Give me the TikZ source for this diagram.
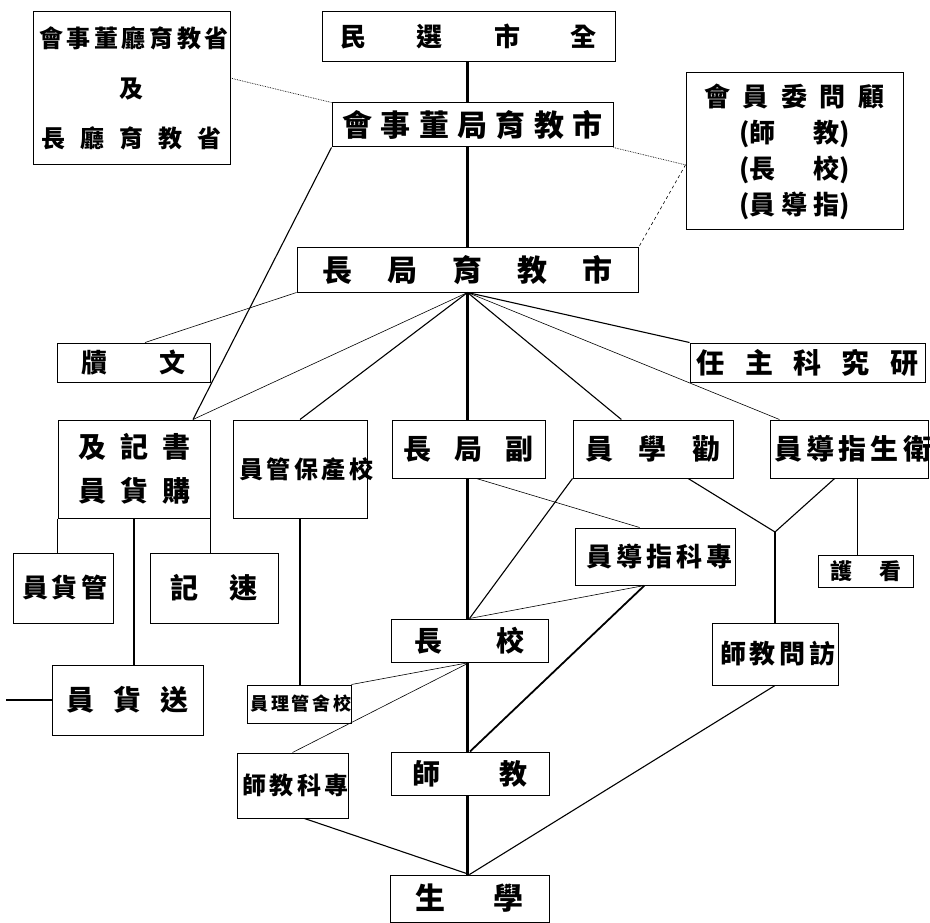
\documentclass[tikz,border=0pt]{standalone}
\usepackage{fontspec}
\setmainfont{Noto Sans CJK TC}
\newcommand{\spread}[2]{\makebox[#1][s]{#2}}
\tikzset{
  box/.style={draw, line width=1pt, inner sep=0pt, align=center},
  sz/.style 2 args={font=\bfseries\fontsize{#1pt}{#2pt}\selectfont},
  spine/.style={line width=2.4pt},
  bold/.style={line width=1.8pt},
  link/.style={line width=1.1pt},
  thin/.style={line width=0.6pt},
  faint/.style={line width=0.7pt, densely dotted},
}

\begin{document}
\begin{tikzpicture}[x=1pt, y=-1pt]
\useasboundingbox (0,0) rectangle (930,923);

% top of the chart
\node[box, minimum width=197pt, minimum height=153pt, sz={24}{50}] (sheng) at (131.5,88.5) {\spread{185pt}{會 事 董 廳 育 教 省}\\及\\\spread{180pt}{長 廳 育 教 省}};
\node[box, minimum width=293pt, minimum height=50pt, sz={26}{30}] (quan) at (468.5,37) {\spread{257pt}{民 選 市 全}};
\node[box, minimum width=281pt, minimum height=44pt, sz={30}{34}] (dongshi) at (472.5,125) {\spread{260pt}{會 事 董 局 育 教 市}};
\node[box, minimum width=217pt, minimum height=157pt, sz={26}{36}] (guwen) at (794.5,151.5) {\spread{180pt}{會 員 委 問 顧}\\\spread{111pt}{(師 教)}\\\spread{111pt}{(長 校)}\\\spread{111pt}{(員 導 指)}};
\node[box, minimum width=341pt, minimum height=44pt, sz={30}{34}] (juzhang) at (467.5,270) {\spread{290pt}{長 局 育 教 市}};

% under the director
\node[box, minimum width=153pt, minimum height=39pt, sz={26}{30}] (wendu) at (133.5,362.5) {\spread{105pt}{牘 文}};
\node[box, minimum width=235pt, minimum height=39pt, sz={28}{32}] (yanjiu) at (807.5,362.5) {\spread{222pt}{任 主 科 究 研}};
\node[box, minimum width=152pt, minimum height=98pt, sz={28}{44}] (shuji) at (134,469) {\spread{112pt}{及 記 書}\\\spread{112pt}{員 貨 購}};
\node[box, minimum width=134pt, minimum height=98pt, sz={24}{28}] (xiaochan) at (300,469) {\spread{122pt}{員 管 保 產 校}};
\node[box, minimum width=153pt, minimum height=58pt, sz={28}{32}] (fuju) at (468.5,449) {\spread{130pt}{長 局 副}};
\node[box, minimum width=160pt, minimum height=58pt, sz={28}{32}] (quanxue) at (653,449) {\spread{135pt}{員 學 勸}};
\node[box, minimum width=158pt, minimum height=58pt, sz={28}{32}] (weisheng) at (849,449) {\spread{150pt}{員 導 指 生 衛}};
\node[box, minimum width=160pt, minimum height=57pt, sz={26}{30}] (zhuanzhi) at (655,556.5) {\spread{137pt}{員 導 指 科 專}};

% lower rows
\node[box, minimum width=100pt, minimum height=70pt, sz={26}{30}] (guanhuo) at (63,588) {\spread{82pt}{員 貨 管}};
\node[box, minimum width=128pt, minimum height=70pt, sz={28}{32}] (suji) at (214,588) {\spread{87pt}{記 速}};
\node[box, minimum width=95pt, minimum height=32pt, sz={22}{26}] (kanhu) at (865.5,571) {\spread{71pt}{護 看}};
\node[box, minimum width=157pt, minimum height=43pt, sz={28}{32}] (xiaozhang) at (469.5,640.5) {\spread{110pt}{長 校}};
\node[box, minimum width=126pt, minimum height=62pt, sz={26}{30}] (fangwen) at (775,654) {\spread{110pt}{師 教 問 訪}};
\node[box, minimum width=151pt, minimum height=70pt, sz={28}{32}] (songhuo) at (127.5,700) {\spread{122pt}{員 貨 送}};
\node[box, minimum width=104pt, minimum height=38pt, sz={18}{22}] (xiaoshe) at (299,704) {\spread{97pt}{員 理 管 舍 校}};
\node[box, minimum width=111pt, minimum height=65pt, sz={24}{28}] (zhuanjiao) at (292.5,785.5) {\spread{101pt}{師 教 科 專}};
\node[box, minimum width=158pt, minimum height=43pt, sz={28}{32}] (jiaoshi) at (470,773.5) {\spread{116pt}{師 教}};
\node[box, minimum width=159pt, minimum height=47pt, sz={30}{34}] (xuesheng) at (469.5,898.5) {\spread{109pt}{生 學}};

\coordinate (hub) at (juzhang.south);
\coordinate (fork) at (775,532);
\coordinate (exit) at (6,700);

% main line
\foreach \a/\b in {quan/dongshi, dongshi/juzhang, juzhang/fuju, fuju/xiaozhang, xiaozhang/jiaoshi, jiaoshi/xuesheng}
  \draw[spine] (\a.south -| hub) -- (\b.north -| hub);

% fan from the director
\foreach \t in {xiaochan.north, quanxue.137, yanjiu.north west}
  \draw[link] (hub) -- (\t);
\foreach \t in {shuji.40, weisheng.157}
  \draw[thin] (hub) -- (\t);
\draw[thin] (juzhang.south west) -- (wendu.60);
\draw[link] (dongshi.south west) -- (shuji.40);

% dotted ties
\draw[faint] (sheng.6) -- (dongshi.north west);
\draw[faint] (dongshi.south east) -- (guwen.187);
\draw[thin, dashed] (guwen.187) -- (juzhang.north east);

% left side
\draw[link] (shuji.south west) -- (shuji.south west |- guanhuo.north);
\draw[link] (shuji.south east) -- (shuji.south east |- suji.north);
\draw[link] (shuji.south) -- (shuji.south |- songhuo.north);
\draw[link] (xiaochan.south) -- (xiaochan.south |- xiaoshe.north);
\draw[link] (songhuo.west) -- (exit);

% middle and right
\draw[thin] (fuju.285) -- (zhuanzhi.118);
\draw[link] (quanxue.south west) -- (xiaozhang.north);
\draw[thin] (zhuanzhi.250) -- (xiaozhang.north);
\draw[bold] (zhuanzhi.250) -- (jiaoshi.north);
\draw[link] (quanxue.320) -- (fork) -- (weisheng.244);
\draw[link] (fork) -- (fangwen.north);
\draw[link] (weisheng.south -| kanhu.115) -- (kanhu.115);

% towards the pupils
\draw[thin] (xiaoshe.north east) -- (xiaozhang.south);
\draw[thin] (zhuanjiao.north) -- (xiaozhang.south);
\draw[link] (zhuanjiao.290) -- (xuesheng.north);
\draw[link] (fangwen.south) -- (xuesheng.north);
\end{tikzpicture}
\end{document}
